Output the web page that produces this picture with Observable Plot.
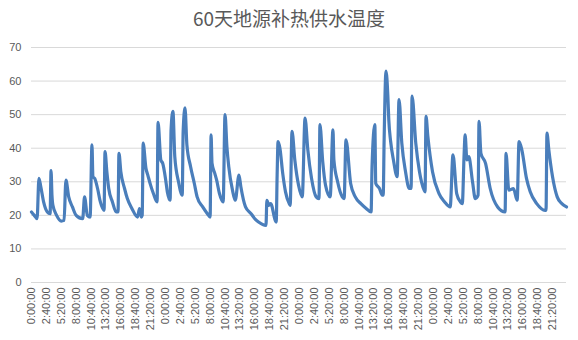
<!DOCTYPE html>
<html><head><meta charset="utf-8">
<script src="https://cdn.jsdelivr.net/npm/d3@7"></script>
<script src="https://cdn.jsdelivr.net/npm/@observablehq/plot@0.6"></script>
<style>
body{margin:0;background:#fff;}
#wrap{position:relative;width:578px;height:340px;}
#title{position:absolute;top:8px;left:0;width:578px;text-align:center;font-family:"Noto Sans CJK SC";font-size:19px;line-height:20px;color:#595959;}
#wrap svg{position:absolute;left:0;top:0;}
</style></head><body><div id="wrap"><div id="title">60天地源补热供水温度</div></div>
<script>
// step index (10-minute intervals) and supply-water temperature (°C), one pair of arrays per day
const day1Steps = [0,3,6,8,10,13,17,20,21,22,23,27,32,35,37,40,44,48,55,57,60,63,65,66,68,71,74,78,79,81,83,87,91,93,94,96,100,103,108,114,116,118,119,120,123,125,128,131,135,136,139,141];
const day1Temps = [21,20,19,31,28.5,24,21,20.5,33.3,26,23,20,18.3,18.5,30.5,25.5,22.5,20,19,25.5,20,19.5,41,31.5,31,28,24,21.5,39,33,28,24,21,21,38.5,33,28,25,22,19.5,22,19.5,20,41.5,34,32,29,26.5,24,47.7,36.5,35.5];
const day2Steps = [144,146,149,150,152,154,158,162,163,165,167,171,175,178,184,189,192,193,194,197,199,202,206,208,210,212,216,219,223,225,230,236,240,244,252,253,255,257,263,264,265,267,270,273,277,278,280,283,287];
const day2Temps = [31,27,24.5,45.5,51,37.5,30,26,45,52,41,34.5,29.5,25.5,22.5,20.5,19.5,44,35.5,32.5,30.5,26.5,24,50,40.5,34.5,27.5,24.5,32,28.5,22.5,20.5,19,18,17,24.5,23,23.5,18,32,42,40,32.5,27,23.5,23,45,36.5,29];
const day3Steps = [291,294,297,301,306,309,310,313,316,321,324,325,329,334,336,338,343,348,354,360,365,366,369,370,374,377,378,379,381,383,384,386,389,393,395,398,402,406,408,409,413,417,422,423,424,426,431];
const day3Temps = [25.5,49,39.5,31,25.5,25,47,36,29,25.5,45.5,36.5,30,25.5,25,42.5,29.5,25.5,23.5,22,21,34.5,47,29.5,28,26,26,42.5,63,55.5,48.5,42,36.5,31.5,54.5,41.5,33,28,28,55.5,41.5,33,27.5,27,49.5,43.5,33];
const day4Steps = [438,444,450,453,457,461,463,465,466,468,470,474,477,480,481,483,488,493,501,509,510,513,518,522,524,527,532,536,543,552,553,554,556,560,565,570,575];
const day4Temps = [26.5,24,22.5,38,26.5,24,23.5,38.5,44,36.5,37.5,30,25,26,48,38.5,35.5,28,22.5,21,38.5,27.5,28,24.5,42,39.5,31,27,23.5,21.5,21.5,44.5,39.5,31.5,25.5,23.5,22.5];
const tickLabels = ["0:00:00","2:40:00","5:20:00","8:00:00","10:40:00","13:20:00","16:00:00","18:40:00","21:20:00"];
const yTicks = [0,10,20,30,40,50,60,70];

const steps = [...day1Steps, ...day2Steps, ...day3Steps, ...day4Steps];
const temps = [...day1Temps, ...day2Temps, ...day3Temps, ...day4Temps];
const data = steps.map((s, i) => ({step: s, temp: temps[i]}));
const xTickSteps = d3.range(0, 576, 16);

const chart = Plot.plot({
  width: 578, height: 340,
  marginTop: 47, marginBottom: 58, marginLeft: 31, marginRight: 12,
  x: {domain: [0, 575]},
  y: {domain: [0, 70]},
  style: {fontFamily: "Liberation Sans", fontSize: "11px", color: "#595959", background: "transparent"},
  marks: [
    Plot.gridY(yTicks, {stroke: "#d9d9d9", strokeOpacity: 1}),
    Plot.axisY(yTicks, {tickSize: 0, tickPadding: 10, label: null}),
    Plot.axisX(xTickSteps, {tickSize: 0, tickRotate: -90, tickPadding: 5, label: null,
      tickFormat: d => tickLabels[(d / 16) % 9]}),
    Plot.line(data, {x: "step", y: "temp", stroke: "#4a7ebb", strokeWidth: 3.2,
      strokeLinejoin: "round", curve: "monotone-x"})
  ]
});
document.getElementById("wrap").appendChild(chart);
</script>
</body></html>
